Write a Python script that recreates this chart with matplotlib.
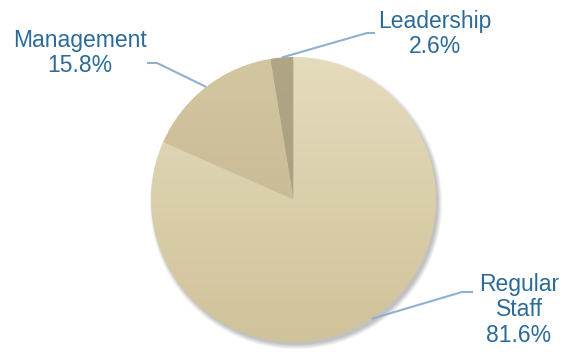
import numpy as np
import matplotlib
matplotlib.use("Agg")
import matplotlib.pyplot as plt
from matplotlib.colors import LinearSegmentedColormap

labels = ["Leadership", "Management", "Regular\nStaff"]
shares = [2.6, 15.8, 81.6]

# top / bottom shade of each wedge (vertical gradient)
top_colors = ["#B0A686", "#D3C7A2", "#E5DCBD"]
bottom_colors = ["#A89C7A", "#BFB088", "#D0C29A"]

W, H = 571, 352
cx, cy, R = 293.5, 352 - 199.5, 142.5

fig = plt.figure(figsize=(W / 100, H / 100), dpi=100)
ax = fig.add_axes([0, 0, 1, 1])

wedges, _ = ax.pie(shares, startangle=90, counterclock=True,
                   center=(cx, cy), radius=R,
                   wedgeprops=dict(linewidth=0))
ax.set_xlim(0, W)
ax.set_ylim(0, H)
ax.set_aspect("equal")
ax.axis("off")

# soft drop shadow under the pie, offset to the lower right
yy, xx = np.mgrid[0:H, 0:W]
d = np.hypot(xx + 0.5 - (cx + 2.5), (H - yy - 0.5) - (cy - 3.5))
alpha = np.clip(1 - (d - R + 1) / 5.0, 0, 1) * 0.4
shadow = np.zeros((H, W, 4))
shadow[..., :3] = 0.4
shadow[..., 3] = alpha
ax.imshow(shadow, extent=(0, W, 0, H), origin="upper", zorder=0.5,
          interpolation="bilinear")

# fill each wedge with a vertical gradient
grad = np.linspace(0, 1, 256).reshape(-1, 1)
for w, c0, c1 in zip(wedges, top_colors, bottom_colors):
    cmap = LinearSegmentedColormap.from_list("g", [c0, c1])
    w.set_facecolor("none")
    w.set_zorder(2)
    im = ax.imshow(grad, cmap=cmap, aspect="auto", origin="upper",
                   extent=(cx - R, cx + R, cy - R, cy + R), zorder=1.5)
    im.set_clip_path(w)

# leader lines and labels
line_col = "#93AFD0"
text_col = "#2C6B99"
knees = [(367, 352 - 33), (157, 352 - 63), (462, 352 - 292)]
ends = [(375, 352 - 33), (147, 352 - 63), (473, 352 - 292)]
text_pos = [(435, 352 - 34), (80, 352 - 53), (519, 352 - 310)]

for w, lab, v, kn, en, tp in zip(wedges, labels, shares, knees, ends, text_pos):
    mid = np.deg2rad((w.theta1 + w.theta2) / 2)
    ex, ey = cx + R * np.cos(mid), cy + R * np.sin(mid)
    ax.plot([ex, kn[0], en[0]], [ey, kn[1], en[1]], color=line_col,
            lw=1.5, zorder=3, solid_capstyle="butt")
    ax.text(tp[0], tp[1], f"{lab}\n{v:.1f}%", ha="center", va="center",
            color=text_col, fontsize=16.5, family="Liberation Sans",
            linespacing=1.15, zorder=4)

fig.savefig("out.png", dpi=100)
